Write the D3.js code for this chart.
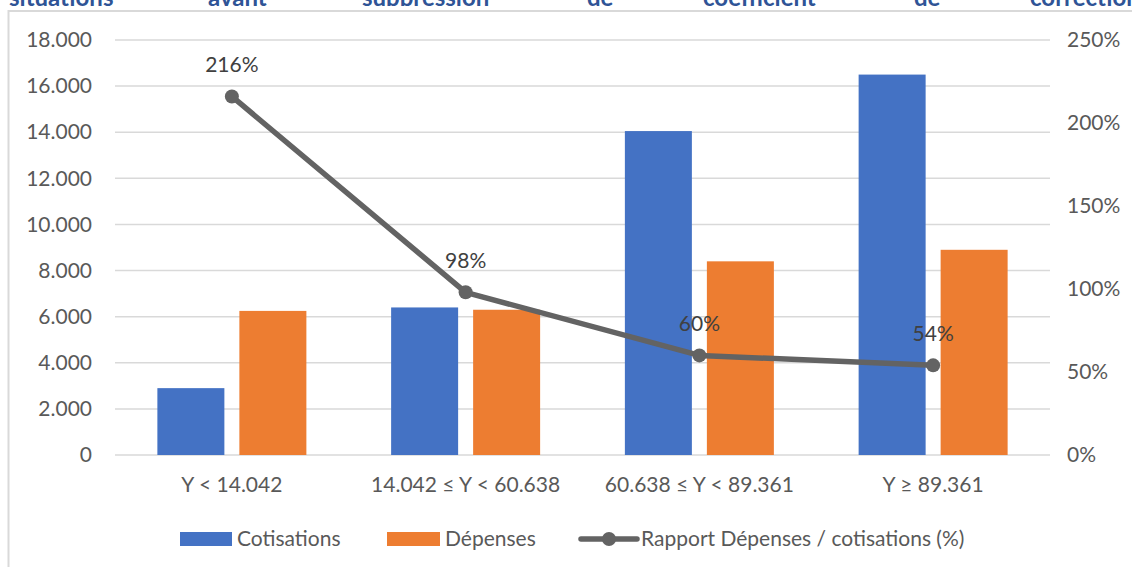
<!DOCTYPE html>
<html>
<head>
<meta charset="utf-8">
<script src="https://cdn.jsdelivr.net/npm/d3@7"></script>
<style>
  html, body { margin: 0; padding: 0; background: #fff; }
  svg { display: block; font-family: Lato, "Open Sans", sans-serif; }
</style>
</head>
<body>
<svg id="chart" width="1132" height="567"></svg>
<script>
// Tranches de revenu (Y) and amounts per tranche
const categories = ["Y < 14.042", "14.042 ≤ Y < 60.638", "60.638 ≤ Y < 89.361", "Y ≥ 89.361"];
const cotisations = [2900, 6400, 14050, 16500];
const depenses = [6250, 6300, 8400, 8900];
const rapport = [2.16, 0.98, 0.60, 0.54];
const leftTicks = [0, 2000, 4000, 6000, 8000, 10000, 12000, 14000, 16000, 18000];
const rightTicks = [0, 0.5, 1, 1.5, 2, 2.5];
const seriesNames = ["Cotisations", "Dépenses", "Rapport Dépenses / cotisations (%)"];
// Running heading words above the chart frame
const headingWords = ["situations", "avant", "suppression", "de", "coefficient", "de", "correction"];
const headingX = [9, 208, 362, 587, 703, 914, 1030];

const svg = d3.select("#chart");
const colors = { cot: "#4472C4", dep: "#ED7D31", line: "#636363", grid: "#D9D9D9", text: "#595959" };
const fs = 21;

// Heading (only its lower part shows above the frame)
const clip = svg.append("defs").append("clipPath").attr("id", "headClip");
clip.append("rect").attr("x", 0).attr("y", 0).attr("width", 1132).attr("height", 6);
svg.append("g").attr("clip-path", "url(#headClip)")
  .selectAll("text").data(headingWords).join("text")
  .attr("x", (d, i) => headingX[i]).attr("y", 6)
  .attr("font-size", 24).attr("font-weight", 700).attr("fill", "#2F5496")
  .text(d => d);

// Chart frame
svg.append("rect").attr("x", 8.5).attr("y", 11).attr("width", 1140).attr("height", 580)
  .attr("fill", "none").attr("stroke", colors.grid).attr("stroke-width", 2);

const plot = { left: 115, right: 1050, top: 40, bottom: 455 };

const x = d3.scaleBand().domain(categories).range([plot.left, plot.right]).paddingInner(0).paddingOuter(0);
const yL = d3.scaleLinear().domain([0, 18000]).range([plot.bottom, plot.top]);
const yR = d3.scaleLinear().domain([0, 2.5]).range([plot.bottom, plot.top]);

const fmtL = v => d3.format(",")(v).replace(/,/g, ".");
const fmtR = v => d3.format(".0%")(v);

// Gridlines
svg.append("g").selectAll("line").data(leftTicks).join("line")
  .attr("x1", plot.left).attr("x2", plot.right)
  .attr("y1", d => yL(d)).attr("y2", d => yL(d))
  .attr("stroke", colors.grid).attr("stroke-width", 1.5);

// Left axis
const axL = svg.append("g").attr("transform", `translate(${plot.left},0)`)
  .call(d3.axisLeft(yL).tickValues(leftTicks).tickFormat(fmtL).tickSize(0).tickPadding(23));
axL.select(".domain").remove();
axL.selectAll("text").attr("font-size", fs).attr("fill", colors.text).attr("font-family", "Lato");

// Right axis
const axR = svg.append("g").attr("transform", `translate(${plot.right},0)`)
  .call(d3.axisRight(yR).tickValues(rightTicks).tickFormat(fmtR).tickSize(0).tickPadding(17));
axR.select(".domain").remove();
axR.selectAll("text").attr("font-size", fs).attr("fill", colors.text).attr("font-family", "Lato");

// Category axis
const axB = svg.append("g").attr("transform", `translate(0,${plot.bottom})`)
  .call(d3.axisBottom(x).tickSize(0).tickPadding(22));
axB.select(".domain").remove();
axB.selectAll("text").attr("font-size", fs).attr("fill", colors.text).attr("font-family", "Lato");

// Bars
const barW = 67, gap = 15;
const grp = svg.append("g");
grp.selectAll("rect.cot").data(cotisations).join("rect").attr("class", "cot")
  .attr("x", (d, i) => x(categories[i]) + x.bandwidth() / 2 - gap / 2 - barW)
  .attr("y", d => yL(d)).attr("width", barW).attr("height", d => yL(0) - yL(d))
  .attr("fill", colors.cot);
grp.selectAll("rect.dep").data(depenses).join("rect").attr("class", "dep")
  .attr("x", (d, i) => x(categories[i]) + x.bandwidth() / 2 + gap / 2)
  .attr("y", d => yL(d)).attr("width", barW).attr("height", d => yL(0) - yL(d))
  .attr("fill", colors.dep);

// Ratio line
const cx = i => x(categories[i]) + x.bandwidth() / 2;
const line = d3.line().x((d, i) => cx(i)).y(d => yR(d));
svg.append("path").datum(rapport).attr("d", line)
  .attr("fill", "none").attr("stroke", colors.line).attr("stroke-width", 5.5).attr("stroke-linejoin", "round");
svg.append("g").selectAll("circle").data(rapport).join("circle")
  .attr("cx", (d, i) => cx(i)).attr("cy", d => yR(d)).attr("r", 7).attr("fill", colors.line);
svg.append("g").selectAll("text").data(rapport).join("text")
  .attr("x", (d, i) => cx(i)).attr("y", d => yR(d) - 32).attr("dy", "0.35em")
  .attr("text-anchor", "middle").attr("font-size", fs).attr("fill", "#404040")
  .text(d => fmtR(d));

// Legend
const lg = svg.append("g").attr("font-size", fs).attr("fill", colors.text);
lg.append("rect").attr("x", 180).attr("y", 532).attr("width", 52).attr("height", 14).attr("fill", colors.cot);
lg.append("text").attr("x", 237).attr("y", 539).attr("dy", "0.35em").text(seriesNames[0]);
lg.append("rect").attr("x", 387).attr("y", 532).attr("width", 53).attr("height", 14).attr("fill", colors.dep);
lg.append("text").attr("x", 445).attr("y", 539).attr("dy", "0.35em").text(seriesNames[1]);
lg.append("line").attr("x1", 581).attr("x2", 637).attr("y1", 539).attr("y2", 539)
  .attr("stroke", colors.line).attr("stroke-width", 5.5).attr("stroke-linecap", "round");
lg.append("circle").attr("cx", 609).attr("cy", 539).attr("r", 7).attr("fill", colors.line);
lg.append("text").attr("x", 641).attr("y", 539).attr("dy", "0.35em").text(seriesNames[2]);
</script>
</body>
</html>
